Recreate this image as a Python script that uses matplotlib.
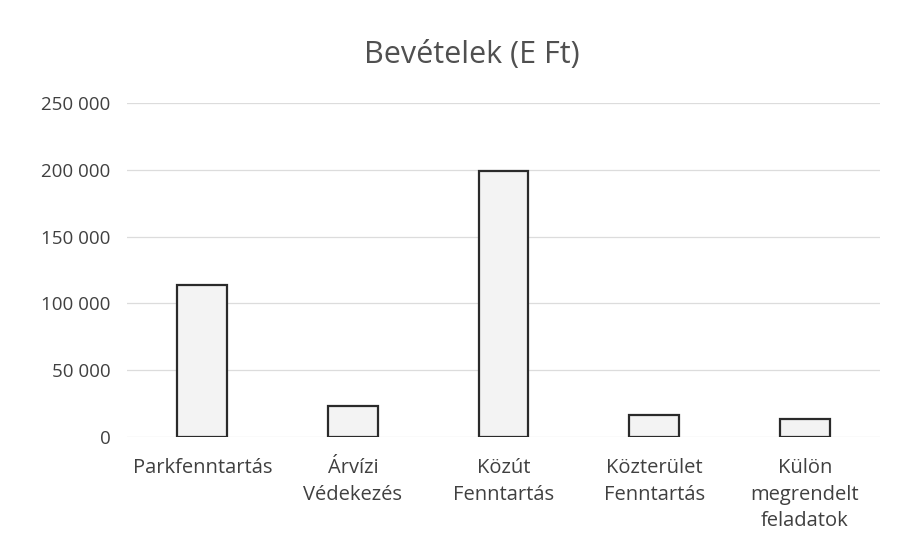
import matplotlib
matplotlib.use("Agg")
import matplotlib.pyplot as plt
from matplotlib.ticker import FuncFormatter

categories = ["Parkfenntartás", "Árvízi\nVédekezés", "Közút\nFenntartás",
              "Közterület\nFenntartás", "Külön\nmegrendelt\nfeladatok"]
values = [113600, 23500, 199000, 16700, 13700]
yticks = [0, 50000, 100000, 150000, 200000, 250000]
title = "Bevételek (E Ft)"

plt.rcParams['font.family'] = ['Open Sans', 'DejaVu Sans']

fig = plt.figure(figsize=(8.99, 5.46), dpi=100)
ax = fig.add_axes([127/899, 1-437/546, (880-127)/899, (437-103)/546])

x = list(range(len(categories)))
ax.bar(x, values, width=0.33, color="#f3f3f3", edgecolor="#2a2a2a", linewidth=1.6, zorder=3)

ax.set_xlim(-0.5, len(categories)-0.5)
ax.set_ylim(0, 250000)
ax.set_yticks(yticks)
ax.yaxis.set_major_formatter(FuncFormatter(lambda v, p: f"{int(v):,}".replace(",", " ")))
ax.set_xticks(x)
ax.set_xticklabels(categories, fontsize=14.5, color="#404040", linespacing=1.45)
ax.tick_params(axis='y', labelsize=13.5, labelcolor="#404040", length=0, pad=12)
ax.tick_params(axis='x', length=0, pad=15)

ax.grid(axis='y', color="#dcdcdc", linewidth=0.9, zorder=0)
for s in ax.spines.values():
    s.set_visible(False)

fig.text(472/899, 1-55/546, title, ha='center', va='center', fontsize=22, color="#505050")

fig.savefig("out.png", dpi=100, facecolor="white")
